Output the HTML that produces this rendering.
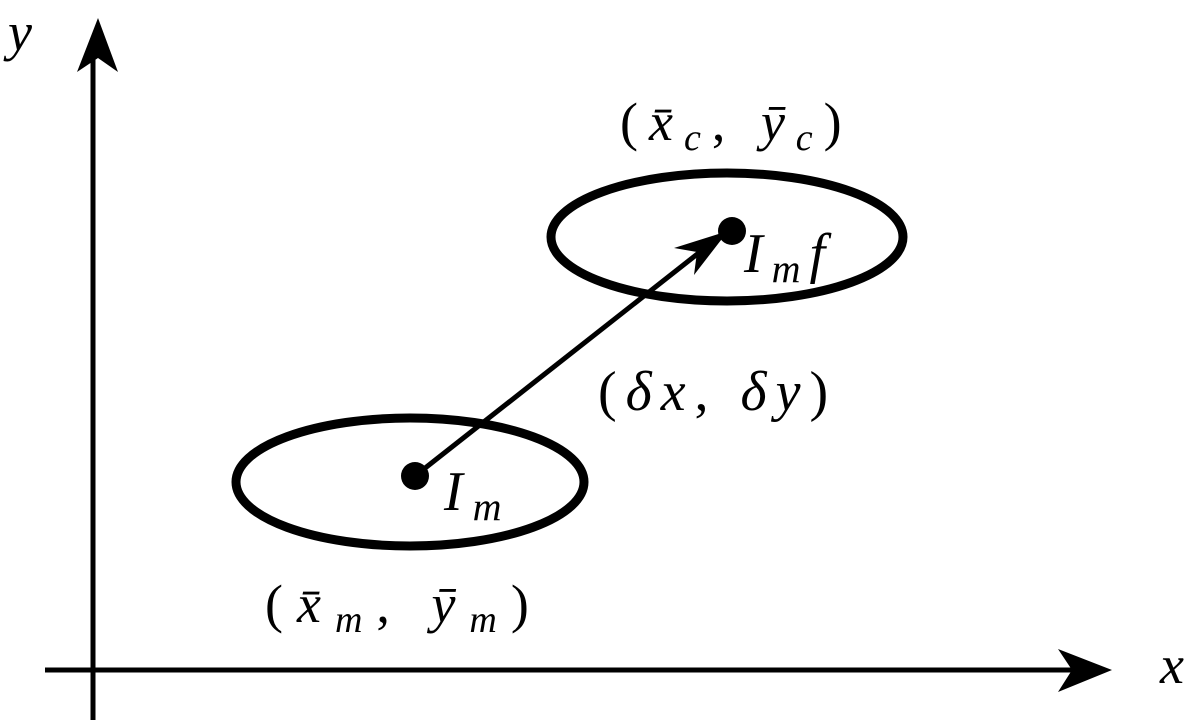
<!DOCTYPE html>
<html><head><meta charset="utf-8"><style>
html,body{margin:0;padding:0;background:#fff;}
svg{display:block}
text{font-family:"Liberation Serif",serif;fill:#000}
.i{font-style:italic}
</style></head><body>
<svg width="1200" height="725" viewBox="0 0 1200 725" xmlns="http://www.w3.org/2000/svg">
<line x1="93" y1="720" x2="93" y2="40" stroke="#000" stroke-width="5"/>
<path d="M98 18 L118 72 L98 58 L77 72 Z" fill="#000"/>
<line x1="45" y1="670" x2="1090" y2="670" stroke="#000" stroke-width="5"/>
<path d="M1112 670 L1058 649 L1072 670 L1058 692 Z" fill="#000"/>
<ellipse cx="410" cy="482" rx="174" ry="64" fill="none" stroke="#000" stroke-width="9"/>
<ellipse cx="727" cy="237" rx="176" ry="64" fill="none" stroke="#000" stroke-width="9"/>
<line x1="415" y1="476" x2="705" y2="248" stroke="#000" stroke-width="5"/>
<path d="M728 231 L674 248 L697 252 L694 275 Z" fill="#000"/>
<circle cx="415" cy="476" r="14" fill="#000"/>
<circle cx="732" cy="231" r="14" fill="#000"/>
<text x="8" y="50" font-size="54" class="i">y</text>
<text x="1160" y="683" font-size="54" class="i">x</text>
<text x="620" y="140" font-size="54" letter-spacing="11">(<tspan class="i">x̄</tspan><tspan class="i" font-size="38" dy="10">c</tspan><tspan dy="-10">, </tspan><tspan class="i">ȳ</tspan><tspan class="i" font-size="38" dy="10">c</tspan><tspan dy="-10">)</tspan></text>
<text x="744" y="272" font-size="56" class="i" letter-spacing="9">I<tspan font-size="40" dy="10">m</tspan><tspan dy="-10">f</tspan></text>
<text x="598" y="410" font-size="56" letter-spacing="9">(<tspan class="i">δx</tspan>, <tspan class="i">δy</tspan>)</text>
<text x="444" y="510" font-size="56" class="i" letter-spacing="10">I<tspan font-size="40" dy="10">m</tspan></text>
<text x="265" y="622" font-size="54" letter-spacing="14">(<tspan class="i">x̄</tspan><tspan class="i" font-size="38" dy="10">m</tspan><tspan dy="-10">, </tspan><tspan class="i">ȳ</tspan><tspan class="i" font-size="38" dy="10">m</tspan><tspan dy="-10">)</tspan></text>
</svg>
</body></html>
